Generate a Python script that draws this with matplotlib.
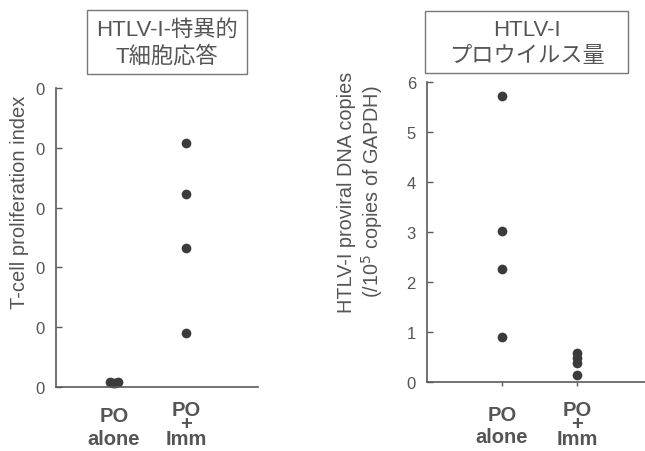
import matplotlib
matplotlib.use("Agg")
import matplotlib.pyplot as plt
from matplotlib.patches import Rectangle
from matplotlib.transforms import blended_transform_factory

# ---- data ----
left_alone = [0.8, 0.6, 0.6, 0.8]
left_alone_jitter = [-0.06, -0.02, 0.02, 0.06]
left_imm = [40.8, 32.3, 23.2, 9.0]
left_ticks = [0, 10, 20, 30, 40, 50]
left_ticklabels = ["0", "0", "0", "0", "0", "0"]

right_alone = [5.71, 3.01, 2.25, 0.90]
right_imm = [0.57, 0.47, 0.37, 0.14]
right_ticks = [0, 1, 2, 3, 4, 5, 6]
right_ticklabels = ["0", "1", "2", "3", "4", "5", "6"]

categories = ["PO\nalone", "PO\n+\nImm"]

TXT = "#555555"
AX = "#5a5a5a"
DOT = "#3b3b3b"
LAT = ["Liberation Sans", "DejaVu Sans"]
CJK = ["Liberation Sans", "Noto Sans CJK JP", "DejaVu Sans"]

W, H = 645, 452
fig = plt.figure(figsize=(W / 100, H / 100), dpi=100)
fig.patch.set_facecolor("white")


def fx(px):
    return px / W


def fy(py):
    return 1 - py / H


def style(ax, ticks, labels):
    for s in ["top", "right"]:
        ax.spines[s].set_visible(False)
    for s in ["left", "bottom"]:
        ax.spines[s].set_color(AX)
        ax.spines[s].set_linewidth(1.2)
    ax.set_yticks(ticks)
    ax.set_yticklabels(labels, fontfamily=LAT, fontsize=12, color=TXT)
    ax.tick_params(axis="y", direction="in", length=4, width=1, color=AX, pad=8)
    ax.set_xticks([])


# ---- left panel ----
axL = fig.add_axes([fx(56), fy(388), fx(258) - fx(56), fy(89) - fy(388)])
axL.set_xlim(-0.806, 2.0)
axL.set_ylim(0, 50)
style(axL, left_ticks, left_ticklabels)
axL.plot([0 + j for j in left_alone_jitter], left_alone, "o", color=DOT,
         markersize=7, markeredgewidth=0, clip_on=False)
axL.plot([1] * len(left_imm), left_imm, "o", color=DOT, markersize=7,
         markeredgewidth=0, clip_on=False)
fig.text(fx(20), fy(202), "T-cell proliferation index", rotation=90,
         ha="center", va="center", fontfamily=LAT, fontsize=14.5, color=TXT)

# ---- right panel ----
axR = fig.add_axes([fx(427), fy(382.7), 1 - fx(427), fy(82.7) - fy(382.7)])
axR.set_xlim(-1.0, 1.907)
axR.set_ylim(0, 6)
style(axR, right_ticks, right_ticklabels)
axR.plot([0] * len(right_alone), right_alone, "o", color=DOT, markersize=7,
         markeredgewidth=0, clip_on=False)
axR.plot([1] * len(right_imm), right_imm, "o", color=DOT, markersize=7,
         markeredgewidth=0, clip_on=False)
axR.set_xticks([0, 1])
axR.set_xticklabels(["", ""])
axR.tick_params(axis="x", direction="out", length=3, width=1, color=AX)
fig.text(fx(347), fy(192), "HTLV-I proviral DNA copies", rotation=90,
         ha="center", va="center", fontfamily=LAT, fontsize=14.3, color=TXT)
fig.text(fx(372), fy(192), "(/10$^5$ copies of GAPDH)", rotation=90,
         ha="center", va="center", fontfamily=LAT, fontsize=14.3, color=TXT)

# ---- category labels (single multi-line texts) ----
for ax, ya, yi in [(axL, 428, 425), (axR, 426.5, 425)]:
    tr = blended_transform_factory(ax.transData, fig.transFigure)
    kw = dict(ha="center", va="center", fontfamily=LAT, fontweight="bold",
              fontsize=14.5, color=TXT, transform=tr, multialignment="center")
    ax.text(0, fy(ya), categories[0], linespacing=1.25, **kw)
    ax.text(1, fy(yi), categories[1], linespacing=0.72, **kw)

# ---- title boxes ----
for (x0, y0, x1, y1, l1, l2) in [(87, 11, 247, 75, "HTLV-I-特異的", "T細胞応答"),
                                 (425, 12, 628, 74, "HTLV-I", "プロウイルス量")]:
    fig.patches.append(Rectangle((fx(x0), fy(y1)), fx(x1) - fx(x0), fy(y0) - fy(y1),
                                 transform=fig.transFigure, fill=False,
                                 edgecolor="#777777", linewidth=1.0))
    cx = fx((x0 + x1) / 2)
    fig.text(cx, fy(30), l1, ha="center", va="center", fontfamily=CJK,
             fontsize=16, color=TXT)
    fig.text(cx, fy(57), l2, ha="center", va="center", fontfamily=CJK,
             fontsize=16, color=TXT)

fig.savefig("out.png", dpi=100, facecolor="white")
